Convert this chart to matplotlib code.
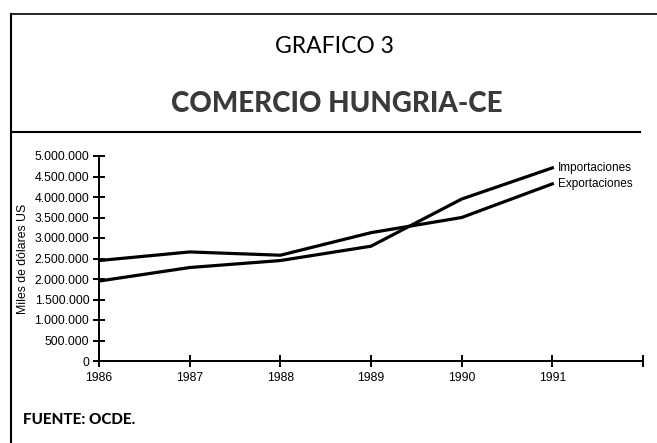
import matplotlib
matplotlib.use("Agg")
import matplotlib.pyplot as plt
from matplotlib.ticker import FuncFormatter
from matplotlib.lines import Line2D

years = [1986, 1987, 1988, 1989, 1990, 1991]
importaciones = [1950000, 2280000, 2450000, 2800000, 3950000, 4710000]
exportaciones = [2450000, 2660000, 2580000, 3130000, 3500000, 4320000]
series_names = ["Importaciones", "Exportaciones"]
yticks = [0, 500000, 1000000, 1500000, 2000000, 2500000, 3000000, 3500000,
          4000000, 4500000, 5000000]
xtick_labels = ["1986", "1987", "1988", "1989", "1990", "1991", ""]
xticks = [1986, 1987, 1988, 1989, 1990, 1991, 1992]

W, H = 657, 443
fig = plt.figure(figsize=(W / 100, H / 100), dpi=100)
fig.patch.set_facecolor("white")

narrow = ["Liberation Sans", "DejaVu Sans"]
nkw = dict(family=narrow)

ax = fig.add_axes([99 / W, (H - 361) / H, (643 - 99) / W, (361 - 156) / H])
ax.plot(years, importaciones, color="black", lw=2.3, solid_joinstyle="miter")
ax.plot(years, exportaciones, color="black", lw=2.3, solid_joinstyle="miter")
ax.set_xlim(1986, 1992)
ax.set_ylim(0, 5000000)
ax.set_xticks(xticks)
ax.set_xticklabels(xtick_labels)
ax.set_yticks(yticks)
ax.yaxis.set_major_formatter(FuncFormatter(lambda v, p: f"{int(v):,}".replace(",", ".")))
for s in ["top", "right"]:
    ax.spines[s].set_visible(False)
for s in ["left", "bottom"]:
    ax.spines[s].set_linewidth(1.4)
    ax.spines[s].set_clip_on(False)
ax.tick_params(axis="both", direction="inout", length=8, width=1.4, colors="black")
ax.tick_params(axis="y", pad=3)
ax.tick_params(axis="x", pad=4)
for lab in ax.get_xticklabels() + ax.get_yticklabels():
    lab.set_family(narrow)
    lab.set_fontsize(8.8)
ax.patch.set_alpha(0)

ax.set_ylabel("Miles de dólares US", fontsize=8.8, labelpad=4, **nkw)

# line end labels
ax.annotate(series_names[0], xy=(years[-1], importaciones[-1]), xytext=(4, 0),
            textcoords="offset points", va="center", ha="left",
            fontsize=8.5, **nkw)
ax.annotate(series_names[1], xy=(years[-1], exportaciones[-1]), xytext=(4, 0),
            textcoords="offset points", va="center", ha="left",
            fontsize=8.5, **nkw)

# frame & rules
fig.add_artist(Line2D([11 / W, 11 / W], [0, (H - 14) / H], color="black", lw=1.5,
                      transform=fig.transFigure))
fig.add_artist(Line2D([11 / W, 1], [(H - 14) / H, (H - 14) / H], color="black", lw=1.2,
                      transform=fig.transFigure))
fig.add_artist(Line2D([11 / W, 640 / W], [(H - 132) / H, (H - 132) / H], color="black",
                      lw=1.5, transform=fig.transFigure))

fig.text(334 / W, (H - 44.5) / H, "GRAFICO 3", ha="center", va="center_baseline",
         family=["Lato", "DejaVu Sans"], fontsize=16.5)
fig.text(337 / W, (H - 102) / H, "COMERCIO HUNGRIA-CE", ha="center", va="center_baseline",
         family=["Lato", "DejaVu Sans"], fontweight="black", fontsize=20, color="#3a3a3a")
fig.text(23 / W, (H - 418) / H, "FUENTE: OCDE.", ha="left", va="center_baseline",
         family=["Lato", "DejaVu Sans"], fontweight="black", fontsize=11)

fig.savefig("out.png", dpi=100)
